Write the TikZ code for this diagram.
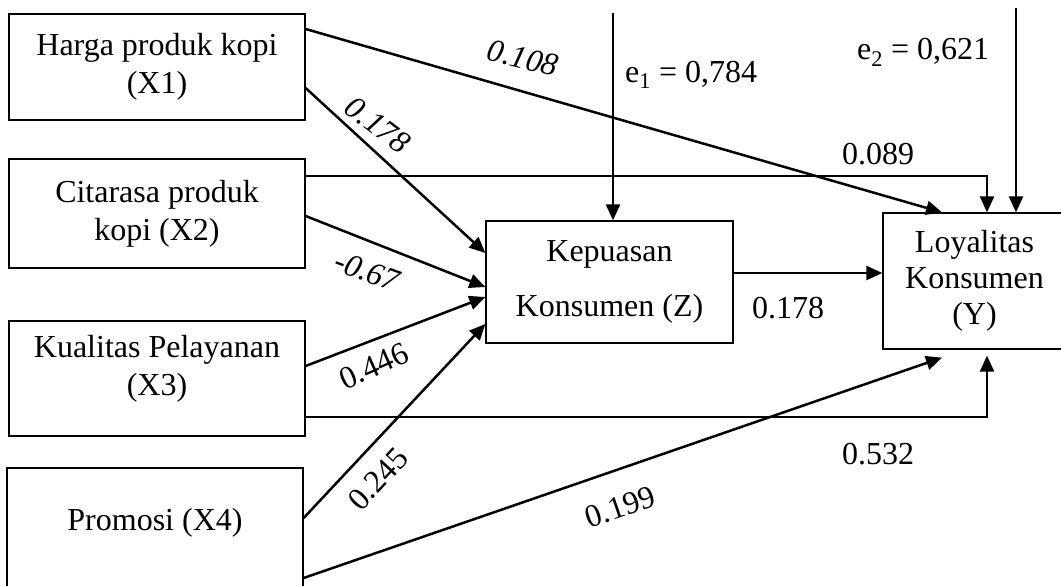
\documentclass[tikz,border=0pt]{standalone}
\usepackage{fontspec}
\setmainfont{Liberation Serif}
\usetikzlibrary{arrows.meta}

\begin{document}
\begin{tikzpicture}[x=1pt, y=1pt,
    box/.style={draw, line width=1.3pt, align=center, inner sep=0pt, font=\fontsize{32}{38}\selectfont},
    arr/.style={line width=2.5pt, -{Triangle[length=16pt, width=14pt]}},
    lbl/.style={inner sep=0pt, font=\fontsize{32}{38}\selectfont}]
            \useasboundingbox (0,0) rectangle (1061,-586);
            \clip (0,0) rectangle (1061,-586);

            % Nodes
            \node[box, minimum width=296pt, minimum height=106pt] (x1) at (157,-67) {Harga produk kopi\\(X1)};
            \node[box, minimum width=296pt, minimum height=109pt] (x2) at (157,-213.5) {Citarasa produk\\kopi (X2)};
            \node[box, minimum width=296pt, minimum height=115pt] (x3) at (157,-378.5) {Kualitas Pelayanan\\(X3)\\[-12pt]};
            \node[box, minimum width=296pt, minimum height=124pt, text height=22pt, text depth=22pt] (x4) at (155,-530) {Promosi (X4)};
            \node[box, minimum width=247pt, minimum height=122pt, font=\fontsize{32}{55}\selectfont] (z) at (609.5,-282) {Kepuasan\\Konsumen (Z)};
            \node[box, minimum width=183pt, minimum height=136pt, font=\fontsize{32}{36}\selectfont] (y) at (974.5,-281) {Loyalitas\\Konsumen\\(Y)};

            % Error terms
            \coordinate (e1top) at (613,-13);
            \coordinate (e2top) at (1016,-8);
            \coordinate (zy) at ([yshift=9pt]z.east);

            % Edges
            \draw[arr] ([yshift=38pt]x1.east) -- ([xshift=-32.5pt]y.north);
            \draw[arr] ([yshift=-21pt]x1.east) -- ([yshift=29pt]z.west);
            \draw[arr] ([yshift=37.5pt]x2.east) -| ([xshift=12.5pt]y.north);
            \draw[arr] ([yshift=-2.5pt]x2.east) -- ([yshift=-5pt]z.west);
            \draw[arr] ([yshift=12.5pt]x3.east) -- ([yshift=-15pt]z.west);
            \draw[arr] ([yshift=-38.5pt]x3.east) -| ([xshift=12.5pt, yshift=-6pt]y.south);
            \draw[arr] ([yshift=12pt]x4.east) -- ([yshift=-42pt]z.west);
            \draw[arr] ([yshift=-48pt]x4.east) -- ([xshift=-32.5pt, yshift=-8pt]y.south);
            \draw[arr] (zy) -- (zy -| y.west);
            \draw[arr] (e1top) -- (e1top |- z.north);
            \draw[arr] (e2top) -- (e2top |- y.north);

            % Path coefficients
            \node[lbl, rotate=-14] (p108) at (523,-58) {\itshape 0.108};
            \node[lbl, rotate=-37] (p178a) at (378,-125) {\itshape 0.178};
            \node[lbl, rotate=-20] (p067) at (367,-271) {\itshape -0.67};
            \node[lbl, rotate=24] (p446) at (374,-366) {0.446};
            \node[lbl, rotate=47] (p245) at (378,-479) {0.245};
            \node[lbl, rotate=19] (p199) at (620,-507) {0.199};
            \node[lbl] (p089) at (878,-154) {0.089};
            \node[lbl] (p178b) at (788,-308) {0.178};
            \node[lbl] (p532) at (878,-454) {0.532};
            \node[lbl, anchor=base west] (e1lbl) at (625,-82) {e\textsubscript{1} = 0,784};
            \node[lbl, anchor=base west] (e2lbl) at (857,-60) {e\textsubscript{2} = 0,621};
        \end{tikzpicture}
\end{document}
